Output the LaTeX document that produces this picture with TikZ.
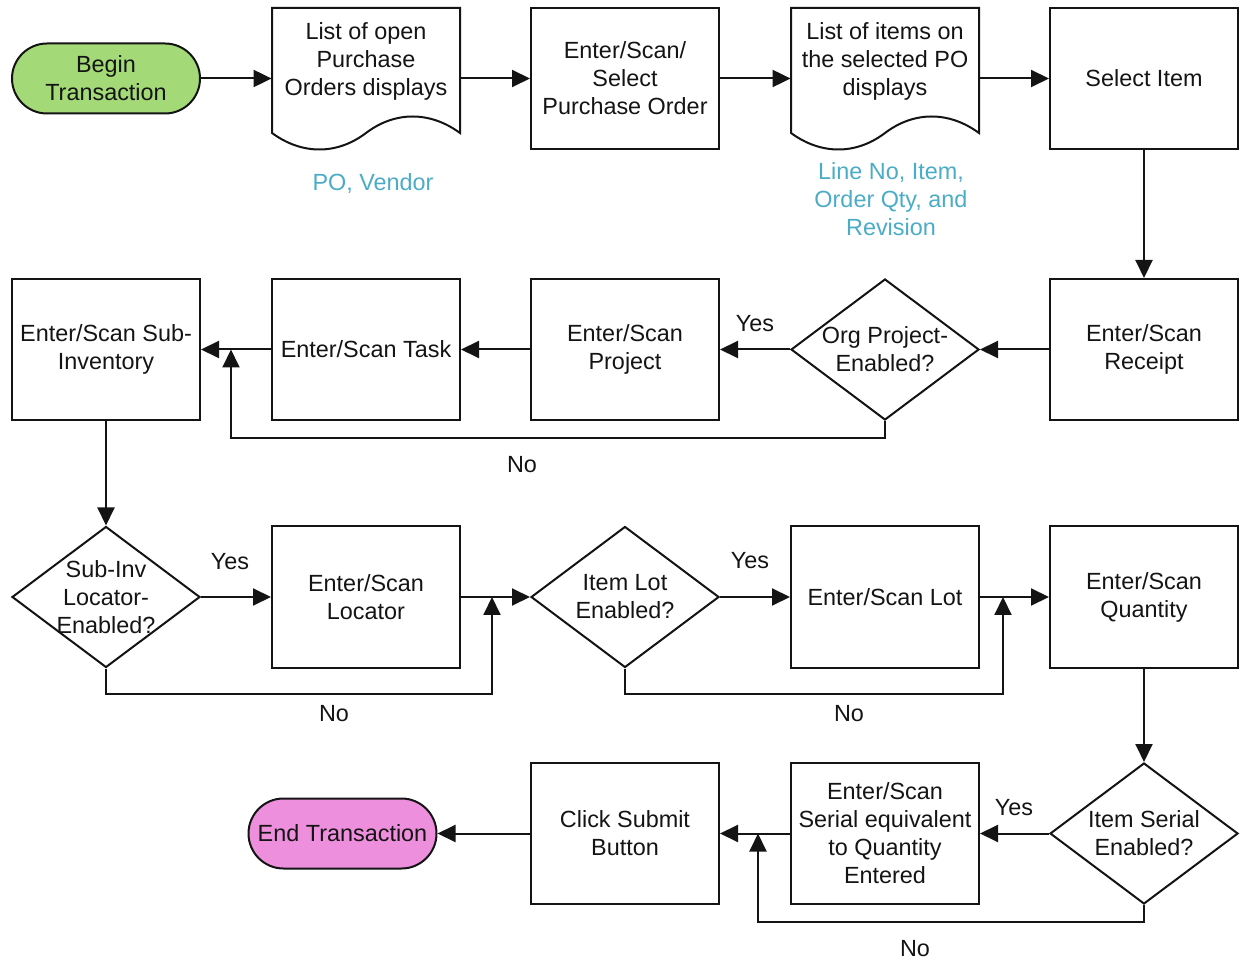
\documentclass[tikz,border=0pt]{standalone}
\usepackage{fontspec}
\setmainfont{Liberation Sans}
\usetikzlibrary{shapes.geometric,shapes.misc,arrows.meta,calc}
\definecolor{begingreen}{RGB}{163,217,119}
\definecolor{endpink}{RGB}{238,143,221}
\definecolor{infoblue}{RGB}{75,172,198}
\definecolor{inkc}{RGB}{20,20,20}
\begin{document}
\begin{tikzpicture}[x=0.5pt,y=-0.5pt,
  every node/.style={font=\fontsize{11.7}{14}\selectfont, text=inkc},
  every label/.style={align=center, inner sep=0pt},
  box/.style={draw=inkc, line width=1pt, minimum width=94pt, minimum height=70.5pt, inner sep=0pt, align=center},
  docbox/.style={minimum width=94pt, minimum height=70.5pt, inner sep=0pt},
  dia/.style={diamond, draw=inkc, line width=1pt, minimum width=94pt, minimum height=70.5pt, inner sep=0pt},
  term/.style={rounded rectangle, draw=inkc, line width=1pt, minimum width=94pt, minimum height=35pt, inner sep=0pt, align=center},
  arr/.style={draw=inkc, line width=1pt, -{Triangle[length=9pt,width=8.5pt]}},
  note/.style={text=infoblue, align=center},
  yn/.style={inner sep=0pt}
]
\useasboundingbox (0,0) rectangle (1243,962);

% Row 1
\node[term, fill=begingreen] (begin) at (106,78.5) {Begin\\Transaction};
\node[docbox, label={[yshift=8.5pt]center:List of open\\Purchase\\Orders displays}] (d1) at (366,78.5) {};
\draw[draw=inkc, line width=1pt, shift={(d1.center)}] (-94,-70.5) -- (94,-70.5) -- (94,54.5)
  .. controls (64,32.5) and (29,32.5) .. (0,54.5)
  .. controls (-29,76.5) and (-64,76.5) .. (-94,54.5) -- cycle;
\node[box] (po) at (625,78.5) {Enter/Scan/\\Select\\Purchase Order};
\node[docbox, label={[yshift=8.5pt]center:List of items on\\the selected PO\\displays}] (d2) at (885,78.5) {};
\draw[draw=inkc, line width=1pt, shift={(d2.center)}] (-94,-70.5) -- (94,-70.5) -- (94,54.5)
  .. controls (64,32.5) and (29,32.5) .. (0,54.5)
  .. controls (-29,76.5) and (-64,76.5) .. (-94,54.5) -- cycle;
\node[box] (sel) at (1144,78.5) {Select Item};

\node[note] (n1) at (373,184) {PO, Vendor};
\node[note] (n2) at (891,199) {Line No, Item,\\Order Qty, and\\Revision};

% Row 2
\node[box] (sub) at (106,349.5) {Enter/Scan Sub-\\Inventory};
\node[box] (task) at (366,349.5) {Enter/Scan Task};
\node[box] (proj) at (625,349.5) {Enter/Scan\\Project};
\node[dia, label={center:Org Project-\\Enabled?}] (org) at (885,349.5) {};
\node[box] (rec) at (1144,349.5) {Enter/Scan\\Receipt};

% Row 3
\node[dia, label={center:Sub-Inv\\Locator-\\Enabled?}] (subdia) at (106,597) {};
\node[box] (loc) at (366,597) {Enter/Scan\\Locator};
\node[dia, label={center:Item Lot\\Enabled?}] (lotdia) at (625,597) {};
\node[box] (lot) at (885,597) {Enter/Scan Lot};
\node[box] (qty) at (1144,597) {Enter/Scan\\Quantity};

% Row 4
\node[term, fill=endpink] (end) at (342.5,833.5) {End Transaction};
\node[box] (sub2) at (625,833.5) {Click Submit\\Button};
\node[box] (ser) at (885,833.5) {Enter/Scan\\Serial equivalent\\to Quantity\\Entered};
\node[dia, label={center:Item Serial\\Enabled?}] (serdia) at (1144,833.5) {};

% junctions
\coordinate (j1) at (231,349.5);
\coordinate (j2) at (492,597);
\coordinate (j3) at (1003,597);
\coordinate (j4) at (758,833.5);

% connectors
\draw[arr] (begin.east) -- (d1.west);
\draw[arr] (d1.east) -- (po.west);
\draw[arr] (po.east) -- (d2.west);
\draw[arr] (d2.east) -- (sel.west);
\draw[arr] (sel.south) -- (rec.north);
\draw[arr] (rec.west) -- (org.east);
\draw[arr] (org.west) -- (proj.east);
\draw[arr] (proj.west) -- (task.east);
\draw[arr] (task.west) -- (sub.east);
\draw[arr] (org.south) -- ++(0,17) -| (j1);
\draw[arr] (sub.south) -- (subdia.north);
\draw[arr] (subdia.east) -- (loc.west);
\draw[arr] (loc.east) -- (lotdia.west);
\draw[arr] (subdia.south) -- ++(0,25) -| (j2);
\draw[arr] (lotdia.east) -- (lot.west);
\draw[arr] (lot.east) -- (qty.west);
\draw[arr] (lotdia.south) -- ++(0,25) -| (j3);
\draw[arr] (qty.south) -- (serdia.north);
\draw[arr] (serdia.west) -- (ser.east);
\draw[arr] (ser.west) -- (sub2.east);
\draw[arr] (serdia.south) -- ++(0,17) -| (j4);
\draw[arr] (sub2.west) -- (end.east);

% Yes / No labels
\node[yn] (y1) at (755,324) {Yes};
\node[yn] (no1) at (522,465) {No};
\node[yn] (y2) at (230,562) {Yes};
\node[yn] (no2) at (334,714) {No};
\node[yn] (y3) at (750,561) {Yes};
\node[yn] (no3) at (849,714) {No};
\node[yn] (y4) at (1014,808) {Yes};
\node[yn] (no4) at (915,949) {No};
\end{tikzpicture}
\end{document}
